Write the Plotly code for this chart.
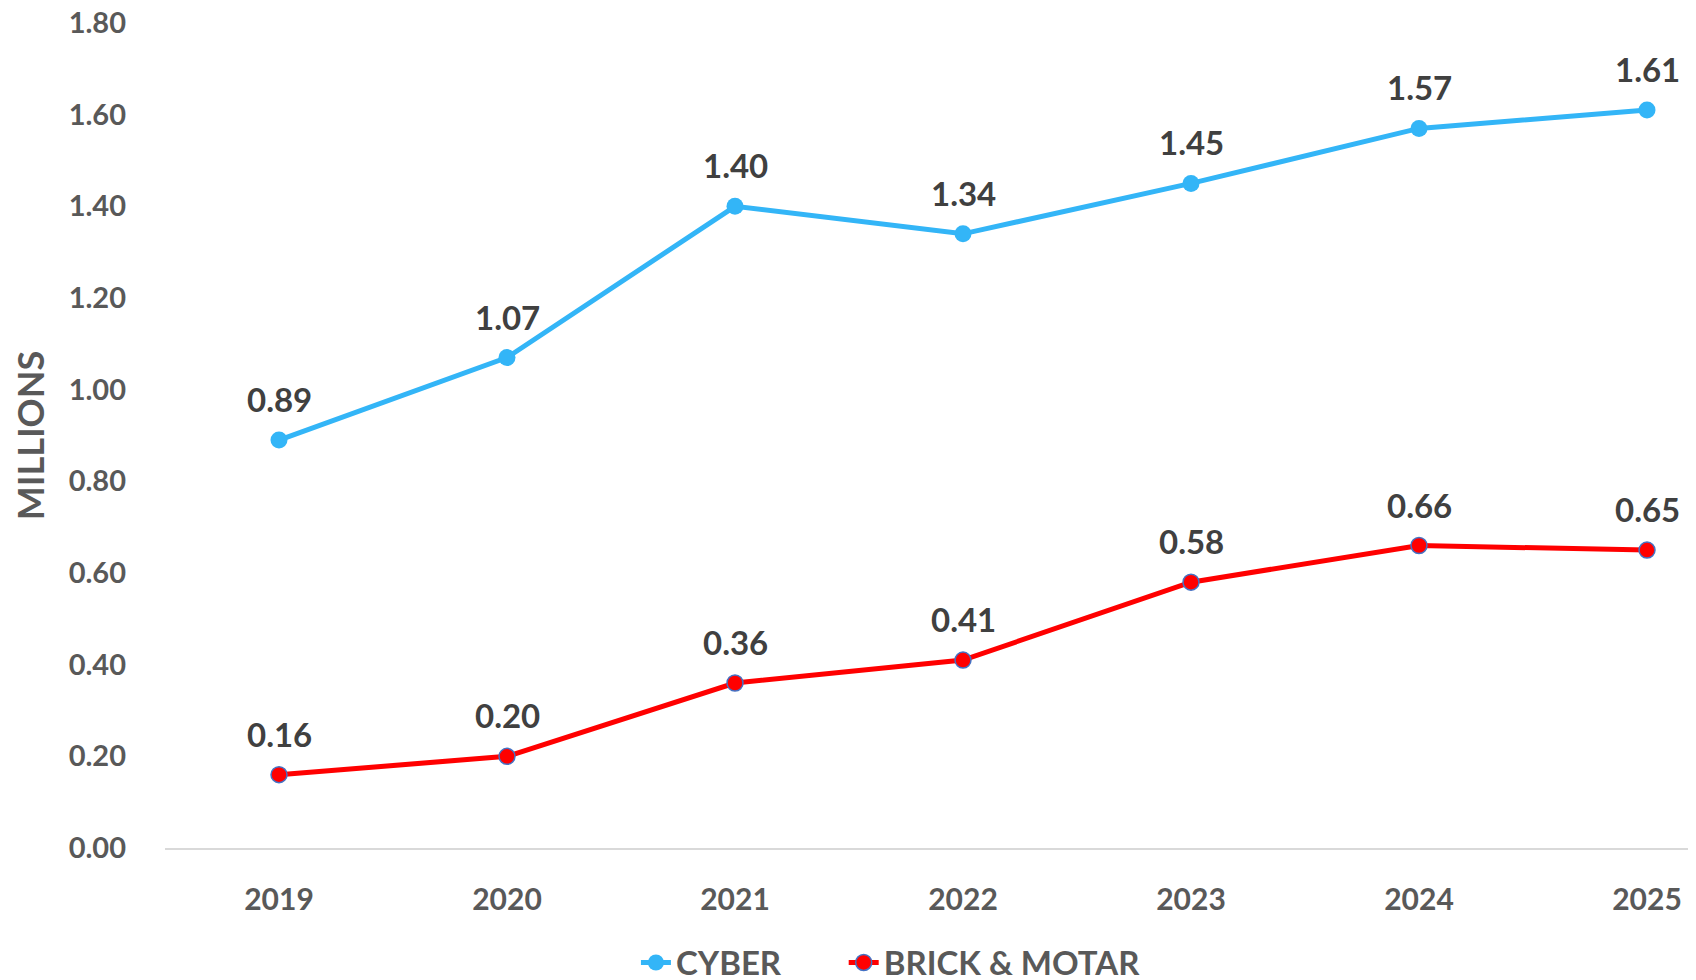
import plotly.graph_objects as go

years = ["2019", "2020", "2021", "2022", "2023", "2024", "2025"]
cyber = [0.89, 1.07, 1.40, 1.34, 1.45, 1.57, 1.61]
brick = [0.16, 0.20, 0.36, 0.41, 0.58, 0.66, 0.65]
y_ticks = [0.0, 0.2, 0.4, 0.6, 0.8, 1.0, 1.2, 1.4, 1.6, 1.8]

FONT = "Lato"
GRAY = "#595959"
DARK = "#404040"

fig = go.Figure()
fig.add_trace(go.Scatter(
    x=years, y=cyber, name="CYBER", mode="lines+markers",
    line=dict(color="#33B5F7", width=5),
    marker=dict(color="#33B5F7", size=17, line=dict(width=0)),
    cliponaxis=False, legend="legend",
))
fig.add_trace(go.Scatter(
    x=years, y=brick, name="BRICK & MOTAR", mode="lines+markers",
    line=dict(color="#FF0000", width=5),
    marker=dict(color="#FF0000", size=16, line=dict(width=1.5, color="#4472C4")),
    cliponaxis=False, legend="legend2",
))

for series in (cyber, brick):
    for i, v in enumerate(series):
        fig.add_annotation(
            x=i, y=v, xref="x", yref="y", text=f"{v:.2f}", showarrow=False,
            yshift=41, yanchor="middle", xanchor="center",
            font=dict(family=FONT, size=33, color=DARK, weight="bold"),
        )

leg_common = dict(orientation="h", yref="container", y=0.026, xanchor="left", yanchor="middle",
                  font=dict(family=FONT, size=33, color=GRAY, weight="bold"),
                  bgcolor="rgba(0,0,0,0)")

fig.update_layout(
    width=1696, height=980,
    margin=dict(l=157, r=0, t=15, b=140),
    paper_bgcolor="white", plot_bgcolor="white",
    font=dict(family=FONT, color=GRAY),
    showlegend=True,
    legend=dict(x=0.306, **leg_common),
    legend2=dict(x=0.441, **leg_common),
)
fig.update_xaxes(
    type="category", range=[-0.5, 6.25], showgrid=False, showline=True,
    linecolor="#D9D9D9", linewidth=2, ticks="", zeroline=False, automargin=False,
    tickfont=dict(family=FONT, size=30, color=GRAY, weight="bold"),
    ticklabelstandoff=24, ticklabeloverflow="allow",
)
fig.update_yaxes(
    range=[0, 1.8], tickvals=y_ticks, ticktext=[f"{v:.2f}" for v in y_ticks],
    showgrid=False, zeroline=False, showline=False, ticks="", automargin=False,
    tickfont=dict(family=FONT, size=29, color=GRAY, weight="bold"),
    ticklabelstandoff=38, ticklabeloverflow="allow",
    title=dict(text="MILLIONS", font=dict(family=FONT, size=36, color=GRAY, weight="bold"), standoff=22),
)

fig.write_html("out.html")
